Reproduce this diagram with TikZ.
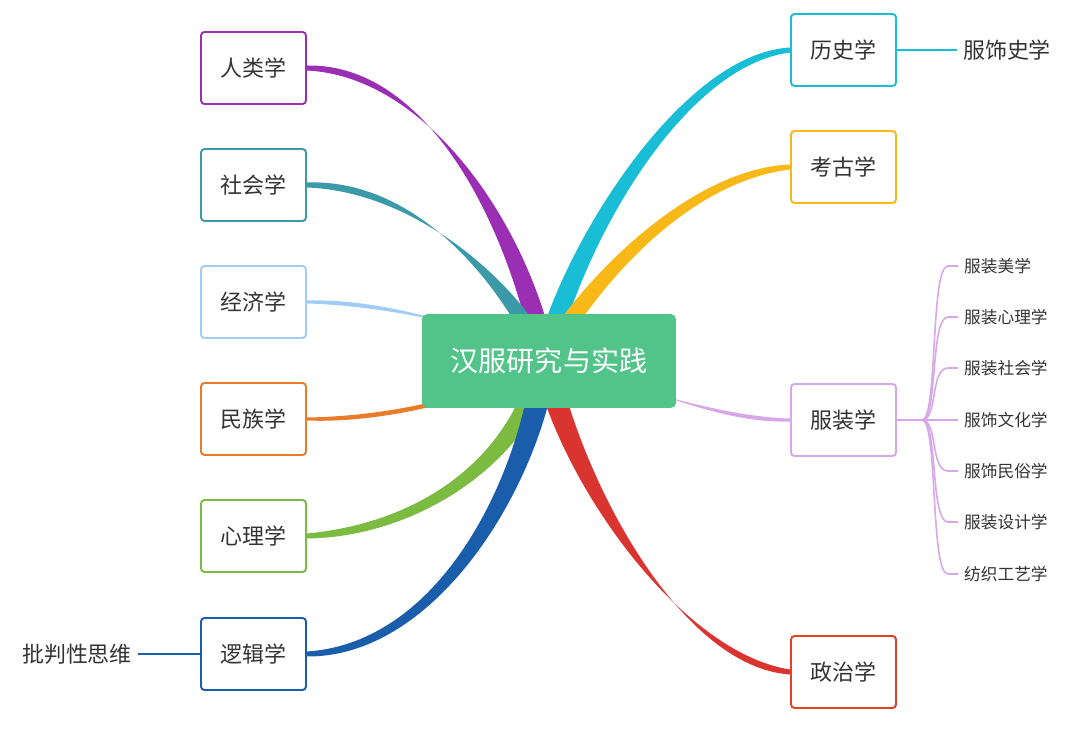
\documentclass[tikz,border=0pt]{standalone}
\usepackage{fontspec}
\setmainfont{Noto Sans CJK SC}
\usetikzlibrary{backgrounds,calc}
\definecolor{hubgreen}{HTML}{52C48A}
\definecolor{cpurple}{HTML}{9B2FB4}
\definecolor{cteal}{HTML}{3A9AA8}
\definecolor{clblue}{HTML}{9FCDF7}
\definecolor{corange}{HTML}{E97C28}
\definecolor{cgreen}{HTML}{7CBB41}
\definecolor{cblue}{HTML}{1A5DAA}
\definecolor{ccyan}{HTML}{1ABDD6}
\definecolor{cyellow}{HTML}{F8B918}
\definecolor{clilac}{HTML}{D6A8EA}
\definecolor{cred}{HTML}{D93430}
\definecolor{txt}{HTML}{333333}
% tapered branch: colour, half width, control 1, control 2, end, end half width
\newcommand{\mmbranch}[6]{%
  \fill[#1] (545-#2,360) .. controls ($#3+(-#2,0)$) and ($#4+(0,-0.6*#2)$) .. ($#5+(0,-#6)$)
    -- ($#5+(0,#6)$) .. controls ($#4+(0,0.6*#2)$) and ($#3+(#2,0)$) .. (545+#2,360) -- cycle;}
\tikzset{
  topic/.style={draw=#1, line width=1.1pt, fill=white, rounded corners=2pt,
    minimum width=2.1cm, minimum height=1.44cm, font=\fontsize{12.5}{14}\selectfont, text=txt},
  leaf/.style={font=\fontsize{12.5}{14}\selectfont, text=txt},
  subleaf/.style={anchor=west, font=\fontsize{9.5}{11}\selectfont, text=txt},
}
\begin{document}
\begin{tikzpicture}[x=0.02cm,y=-0.02cm]
  \useasboundingbox (0,0) rectangle (1080,729);
  % centre
  \node[fill=hubgreen, rounded corners=3pt, minimum width=5.08cm, minimum height=1.88cm,
    text=white, font=\fontsize{16}{18}\selectfont] (hub) at (549,361) {汉服研究与实践};
  % left topics
  \node[topic=cpurple] (rlx) at (253.5,68) {人类学};
  \node[topic=cteal] (shx) at (253.5,185) {社会学};
  \node[topic=clblue] (jjx) at (253.5,302) {经济学};
  \node[topic=corange] (mzx) at (253.5,419) {民族学};
  \node[topic=cgreen] (xlx) at (253.5,536) {心理学};
  \node[topic=cblue] (ljx) at (253.5,654) {逻辑学};
  % right topics
  \node[topic=ccyan] (lsx) at (843.5,50) {历史学};
  \node[topic=cyellow] (kgx) at (843.5,167) {考古学};
  \node[topic=clilac] (fzx) at (843.5,420) {服装学};
  \node[topic=cred!80!orange] (zzx) at (843.5,672) {政治学};
  % leaves
  \node[leaf] (fssx) at (1007,50) {服饰史学};
  \node[leaf] (ppsw) at (77,654) {批判性思维};
  \draw[ccyan, line width=1.2pt] (lsx.east) -- (fssx.west);
  \draw[cblue, line width=1.2pt] (ljx.west) -- (ppsw.east);
  \coordinate (fzfork) at (922,420);
  \draw[clilac, line width=1pt] (fzx.east) -- (fzfork);
  \foreach \name/\lbl/\y in {a/服装美学/266, b/服装心理学/317, c/服装社会学/368,
      d/服饰文化学/420, e/服饰民俗学/471, f/服装设计学/522, g/纺织工艺学/574} {
    \node[subleaf] (sub\name) at (958,\y) {\lbl};
    \draw[clilac, line width=0.9pt] (fzfork) .. controls (938,420) and (930,\y) .. (948,\y)
      -- (sub\name.west);
  }
  % branches
  \begin{pgfonlayer}{background}
    \mmbranch{cpurple}{11}{(520,230)}{(430,70)}{(rlx.east)}{2.5}
    \mmbranch{cteal}{11}{(515,290)}{(420,185)}{(shx.east)}{2.5}
    \mmbranch{clblue}{6}{(480,325)}{(380,302)}{(jjx.east)}{1.5}
    \mmbranch{corange}{6}{(480,400)}{(380,420)}{(mzx.east)}{1.5}
    \mmbranch{cgreen}{12}{(520,460)}{(420,530)}{(xlx.east)}{2.5}
    \mmbranch{cblue}{12}{(530,480)}{(440,650)}{(ljx.east)}{2.5}
    \mmbranch{ccyan}{11}{(570,250)}{(680,60)}{(lsx.west)}{2.5}
    \mmbranch{cyellow}{11}{(590,280)}{(690,175)}{(kgx.west)}{2.5}
    \mmbranch{clilac}{6}{(650,390)}{(720,420)}{(fzx.west)}{1.5}
    \mmbranch{cred}{12}{(570,480)}{(680,660)}{(zzx.west)}{2.5}
  \end{pgfonlayer}
\end{tikzpicture}
\end{document}
